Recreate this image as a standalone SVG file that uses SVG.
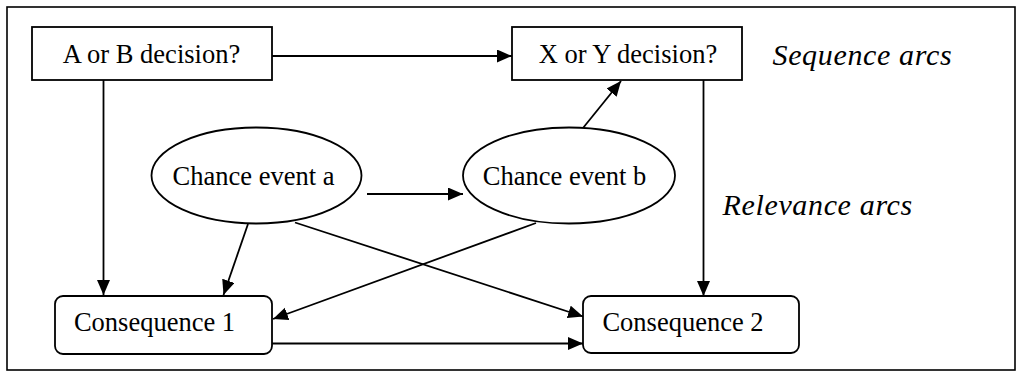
<svg xmlns="http://www.w3.org/2000/svg" width="1017" height="372" viewBox="0 0 1017 372">
  <style>
    .frame { fill: #fff; stroke: #000; stroke-width: 1.6; }
    .node { fill: #fff; stroke: #000; stroke-width: 1.8; }
    .label { font-family: "Liberation Serif", "Times New Roman", serif; font-size: 26.5px; fill: #000; }
    .note { font-family: "Liberation Serif", "Times New Roman", serif; font-size: 30px; font-style: italic; letter-spacing: 0.65px; fill: #000; }
    .arc { fill: none; stroke: #000; stroke-width: 1.8; marker-end: url(#head); }
  </style>
  <defs>
    <marker id="head" markerUnits="userSpaceOnUse" markerWidth="16" markerHeight="14" refX="15" refY="6.5" orient="auto">
      <path d="M0,0 L15,6.5 L0,13 Z" fill="#000"/>
    </marker>
  </defs>

  <rect class="frame" x="7" y="7" width="1008" height="363"/>

  <g id="connectors">
    <line class="arc" x1="272" y1="56" x2="512" y2="56"/>
    <line class="arc" x1="103.5" y1="80" x2="103.5" y2="295"/>
    <line class="arc" x1="703.5" y1="80" x2="703.5" y2="296"/>
    <line class="arc" x1="367" y1="194" x2="463" y2="194"/>
    <line class="arc" x1="583" y1="128" x2="621" y2="81"/>
    <line class="arc" x1="248" y1="224" x2="223.5" y2="295"/>
    <line class="arc" x1="536" y1="223" x2="273" y2="319"/>
    <line class="arc" x1="295" y1="222.5" x2="583" y2="316.5"/>
    <line class="arc" x1="272" y1="343.5" x2="583" y2="343.5"/>
  </g>

  <g id="ab-decision">
    <rect class="node" x="32" y="27" width="240" height="53"/>
    <text class="label" x="151.5" y="63" text-anchor="middle">A or B decision?</text>
  </g>

  <g id="xy-decision">
    <rect class="node" x="512" y="27" width="230" height="53"/>
    <text class="label" x="628" y="63" text-anchor="middle">X or Y decision?</text>
  </g>

  <g id="chance-a">
    <ellipse class="node" cx="256.5" cy="175.5" rx="105" ry="48"/>
    <text class="label" x="253.5" y="185" text-anchor="middle">Chance event a</text>
  </g>

  <g id="chance-b">
    <ellipse class="node" cx="569" cy="175.5" rx="106" ry="48"/>
    <text class="label" x="564.5" y="185" text-anchor="middle">Chance event b</text>
  </g>

  <g id="consequence-1">
    <rect class="node" x="55" y="296" width="217" height="58" rx="8" ry="8"/>
    <text class="label" x="154.5" y="331" text-anchor="middle">Consequence 1</text>
  </g>

  <g id="consequence-2">
    <rect class="node" x="583" y="296" width="216" height="57" rx="8" ry="8"/>
    <text class="label" x="683" y="331" text-anchor="middle">Consequence 2</text>
  </g>

  <g id="legend">
    <text class="note" x="772.5" y="65">Sequence arcs</text>
    <text class="note" x="722.5" y="215">Relevance arcs</text>
  </g>
</svg>
